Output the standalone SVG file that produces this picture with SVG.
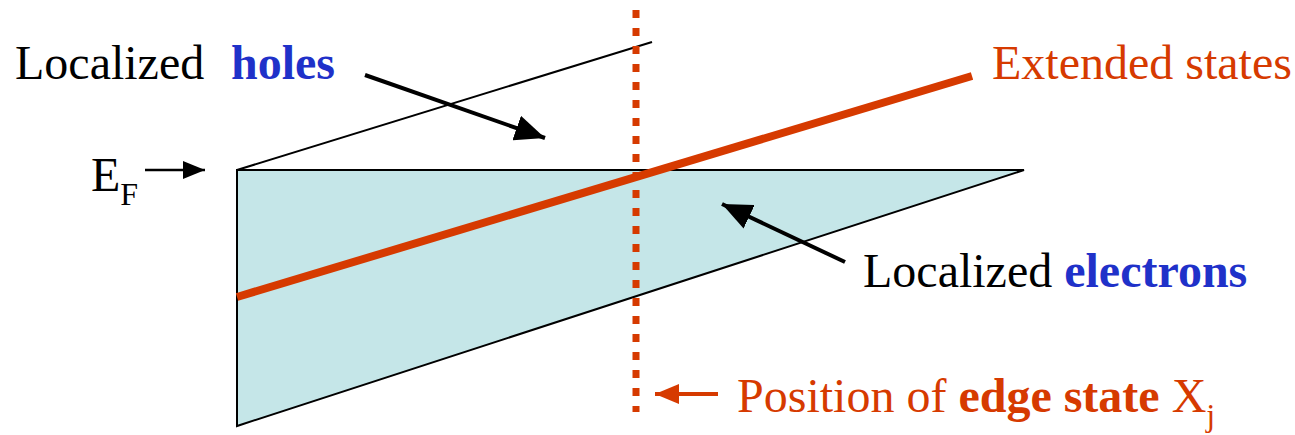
<svg xmlns="http://www.w3.org/2000/svg" width="1295" height="435" viewBox="0 0 1295 435">
<style>
.t{font-family:"Liberation Serif","Times New Roman",serif;font-size:48px}
.blk{fill:#000}
.blu{fill:#1f31c9;font-weight:bold}
.red{fill:#d63a00}
.conn{stroke:#000;stroke-width:4;fill:none}
</style>
<defs>
<marker id="ah" viewBox="0 0 10 10" refX="10" refY="5" markerWidth="30" markerHeight="26" markerUnits="userSpaceOnUse" orient="auto" preserveAspectRatio="none">
<path d="M0,0 L10,5 L0,10 z" fill="#000"/>
</marker>
<marker id="ahs" viewBox="0 0 10 10" refX="10" refY="5" markerWidth="22" markerHeight="18" markerUnits="userSpaceOnUse" orient="auto" preserveAspectRatio="none">
<path d="M0,0 L10,5 L0,10 z" fill="#000"/>
</marker>
<marker id="ahr" viewBox="0 0 10 10" refX="10" refY="5" markerWidth="24" markerHeight="20" markerUnits="userSpaceOnUse" orient="auto" preserveAspectRatio="none">
<path d="M0,0 L10,5 L0,10 z" fill="#d63a00"/>
</marker>
</defs>
<g id="band">
<polygon points="237,170 1024,170 237,426" fill="#c5e6e8" stroke="#000" stroke-width="2"/>
<line x1="237" y1="170" x2="652" y2="42" stroke="#000" stroke-width="2"/>
</g>
<g id="extended-line">
<line x1="237" y1="297" x2="972" y2="76" stroke="#d63a00" stroke-width="8"/>
</g>
<g id="edge-line">
<line x1="636" y1="10" x2="636" y2="412" stroke="#d63a00" stroke-width="7" stroke-dasharray="8 10"/>
</g>
<g id="label-holes">
<text class="t blk" x="15" y="79">Localized</text>
<text class="t blu" x="231" y="79">holes</text>
</g>
<g id="label-ef">
<text class="t blk" x="91" y="191">E<tspan font-size="32" dy="14">F</tspan></text>
</g>
<g id="label-extended">
<text class="t red" x="992" y="79">Extended states</text>
</g>
<g id="label-electrons">
<text class="t blk" x="863" y="287">Localized <tspan class="blu">electrons</tspan></text>
</g>
<g id="label-position">
<text class="t red" x="737" y="412">Position of <tspan font-weight="bold">edge state</tspan> X<tspan font-size="32" dy="14">j</tspan></text>
</g>
<g id="connectors">
<line class="conn" x1="365" y1="75" x2="545" y2="138" marker-end="url(#ah)"/>
<line x1="145" y1="170" x2="205" y2="170" stroke="#000" stroke-width="2.5" marker-end="url(#ahs)"/>
<line class="conn" x1="845" y1="262" x2="722" y2="204" marker-end="url(#ah)"/>
<line x1="718" y1="394" x2="655" y2="394" stroke="#d63a00" stroke-width="4" marker-end="url(#ahr)"/>
</g>
</svg>
